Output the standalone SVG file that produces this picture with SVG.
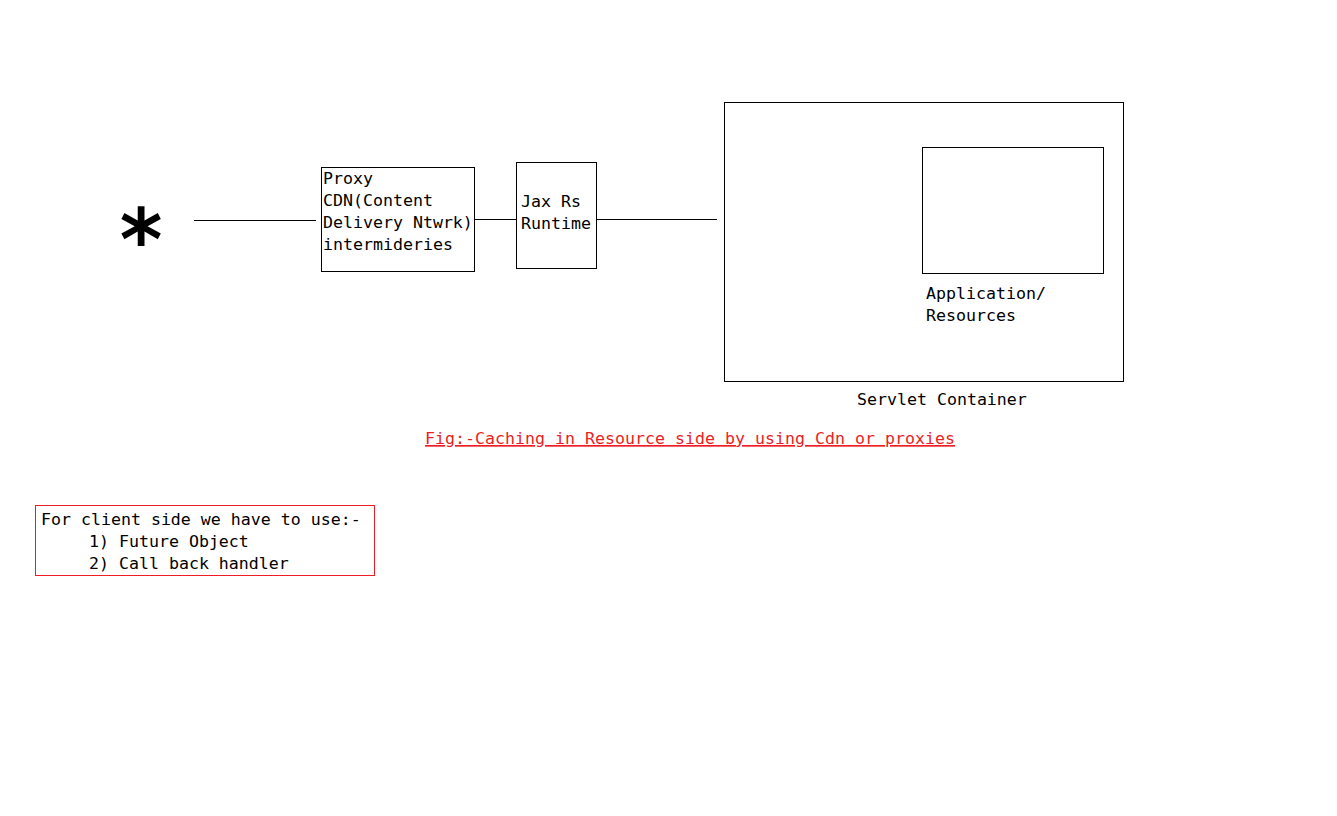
<svg xmlns="http://www.w3.org/2000/svg" width="1337" height="816" viewBox="0 0 1337 816">
<style>
.t{font-family:"DejaVu Sans Mono","Liberation Mono",monospace;font-size:16.6px;fill:#000}
.r{fill:#ee1c24}
.box{fill:none;stroke:#000;stroke-width:1}
.ln{stroke:#000;stroke-width:1}
</style>
<rect width="1337" height="816" fill="#fff"/>
<g id="connectors">
<line class="ln" x1="194" y1="220.5" x2="316" y2="220.5"/>
<line class="ln" x1="474" y1="219.5" x2="516" y2="219.5"/>
<line class="ln" x1="597" y1="219.5" x2="717" y2="219.5"/>
</g>
<g id="client">
<text x="141" y="270" text-anchor="middle" style="font-family:'DejaVu Sans',sans-serif;font-weight:bold;font-size:86px" transform="translate(141 0) scale(0.95 1) translate(-141 0)">*</text>
</g>
<g id="proxy">
<rect class="box" x="321.5" y="167.5" width="153" height="104"/>
<text class="t" x="323" y="184">Proxy</text>
<text class="t" x="323" y="206">CDN(Content</text>
<text class="t" x="323" y="228">Delivery Ntwrk)</text>
<text class="t" x="323" y="250">intermideries</text>
</g>
<g id="jaxrs">
<rect class="box" x="516.5" y="162.5" width="80" height="106"/>
<text class="t" x="521" y="207">Jax Rs</text>
<text class="t" x="521" y="229">Runtime</text>
</g>
<g id="servlet">
<rect class="box" x="724.5" y="102.5" width="399" height="279"/>
<text class="t" x="857" y="405">Servlet Container</text>
</g>
<g id="application">
<rect class="box" x="922.5" y="147.5" width="181" height="126"/>
<text class="t" x="926" y="299">Application/</text>
<text class="t" x="926" y="321">Resources</text>
</g>
<g id="caption">
<text class="t r" x="425" y="444" textLength="530" lengthAdjust="spacing" text-decoration="underline">Fig:-Caching in Resource side by using Cdn or proxies</text>
</g>
<g id="note">
<rect x="35.5" y="505.5" width="339" height="70" fill="none" stroke="#ee1c24" stroke-width="1"/>
<text class="t" x="41" y="525">For client side we have to use:-</text>
<text class="t" x="89" y="547">1) Future Object</text>
<text class="t" x="89" y="569">2) Call back handler</text>
</g>
</svg>
